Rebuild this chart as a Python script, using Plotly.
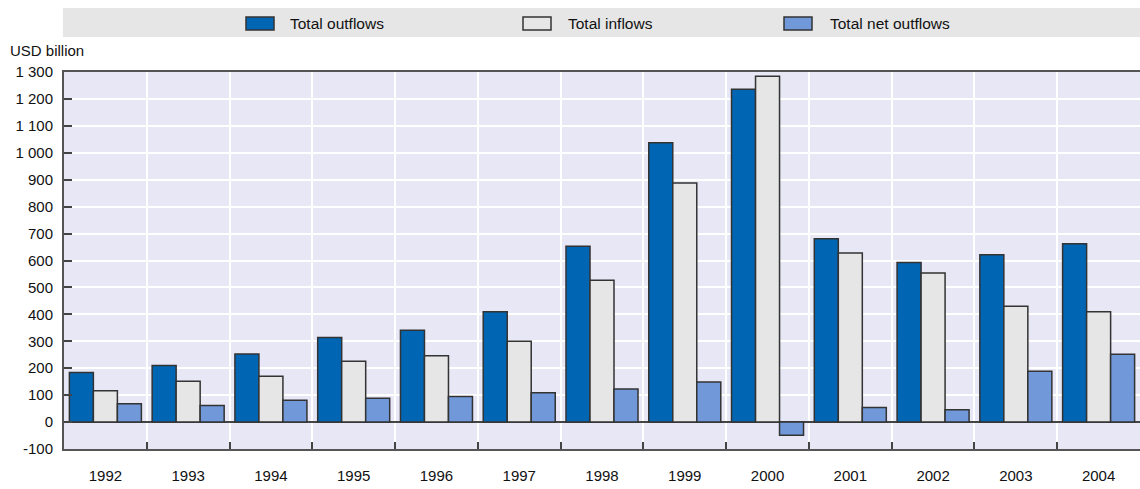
import plotly.graph_objects as go

years = ["1992", "1993", "1994", "1995", "1996", "1997", "1998",
         "1999", "2000", "2001", "2002", "2003", "2004"]
total_outflows = [184, 210, 253, 314, 341, 410, 653, 1037, 1236, 681, 593, 621, 662]
total_inflows = [116, 152, 170, 226, 246, 300, 527, 888, 1284, 628, 554, 430, 410]
total_net_outflows = [68, 62, 81, 88, 95, 109, 123, 149, -49, 54, 46, 189, 252]

y_tickvals = list(range(-100, 1301, 100))
y_ticktext = [f"{v:,}".replace(",", " ") for v in y_tickvals]

series_names = ["Total outflows", "Total inflows", "Total net outflows"]
series_colors = ["#0066B3", "#E6E6E6", "#7198D8"]
series_values = [total_outflows, total_inflows, total_net_outflows]

W, H = 1140, 489
L, R, T, B = 64, 0, 72, 40
PW, PH = W - L - R, H - T - B


def px_x(x):
    return (x - L) / PW


def px_y(y):
    return (H - B - y) / PH


fig = go.Figure()
for name, color, vals in zip(series_names, series_colors, series_values):
    fig.add_trace(go.Bar(
        x=years, y=vals, name=name,
        marker=dict(color=color, line=dict(color="#333333", width=1.5)),
        showlegend=False,
    ))

font_family = "Liberation Sans, Arial, sans-serif"
text_color = "#111111"

# Legend band
shapes = [dict(type="rect", xref="paper", yref="paper",
               x0=px_x(63), x1=1.0, y0=px_y(37), y1=px_y(8),
               fillcolor="#E6E6E6", line=dict(width=0), layer="below")]
annotations = []
legend_pos = [(246, 288), (523, 566), (784, 828)]
for (sx, tx), name, color in zip(legend_pos, series_names, series_colors):
    shapes.append(dict(type="rect", xref="paper", yref="paper",
                       x0=px_x(sx), x1=px_x(sx + 28), y0=px_y(30), y1=px_y(17),
                       fillcolor=color, line=dict(color="#333333", width=1.5)))
    annotations.append(dict(xref="paper", yref="paper", x=px_x(tx), y=px_y(23.5),
                            text=name, showarrow=False, xanchor="left", yanchor="middle",
                            font=dict(size=15.5, color=text_color, family=font_family)))

annotations.append(dict(xref="paper", yref="paper", x=px_x(8), y=px_y(50),
                        text="USD billion", showarrow=False, xanchor="left", yanchor="middle",
                        font=dict(size=15, color=text_color, family=font_family)))

fig.update_layout(
    width=W, height=H,
    margin=dict(l=L, r=R, t=T, b=B, pad=0),
    paper_bgcolor="white",
    plot_bgcolor="#E7E7F6",
    barmode="group",
    bargap=0.13,
    bargroupgap=0,
    shapes=shapes,
    annotations=annotations,
    font=dict(family=font_family, size=15, color=text_color),
    xaxis=dict(
        type="category",
        tickson="boundaries",
        ticks="inside", ticklen=7, tickcolor="#444444", tickwidth=1.5,
        showgrid=True, gridcolor="white", gridwidth=2,
        showline=True, linecolor="#555555", linewidth=2, mirror=True,
        ticklabelstandoff=12,
        tickfont=dict(size=15, color=text_color),
    ),
    yaxis=dict(
        range=[-100, 1300],
        tickvals=y_tickvals, ticktext=y_ticktext,
        ticks="inside", ticklen=8, tickcolor="#444444", tickwidth=1.5,
        showgrid=True, gridcolor="white", gridwidth=2,
        showline=True, linecolor="#555555", linewidth=2,
        zeroline=True, zerolinecolor="#444444", zerolinewidth=2,
        ticklabelstandoff=6,
        tickfont=dict(size=15, color=text_color),
    ),
)

fig.write_html(
    "out.html",
    config={"displayModeBar": False},
    post_script="document.body.style.margin='0';document.body.style.overflow='hidden';",
)
